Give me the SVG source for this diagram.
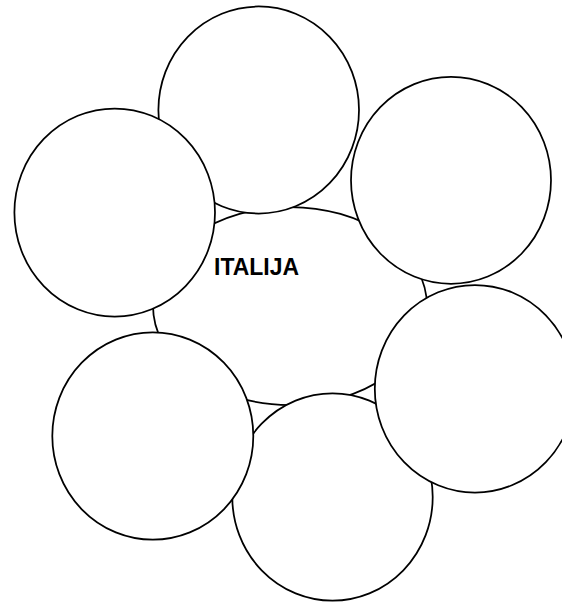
<svg xmlns="http://www.w3.org/2000/svg" width="562" height="603" viewBox="0 0 562 603">
<style>
.s{fill:#fff;stroke:#000;stroke-width:1.75}
.t{font-family:"Liberation Sans",Arial,sans-serif;font-weight:bold;font-size:23px;fill:#000}
</style>
<rect width="562" height="603" fill="#fff"/>
<g id="center">
<ellipse class="s" cx="290" cy="306" rx="137" ry="99"/>
<text class="t" x="214" y="275" textLength="85" lengthAdjust="spacingAndGlyphs">ITALIJA</text>
</g>
<g id="connectors"></g>
<g id="circle-top"><ellipse class="s" cx="258.7" cy="110" rx="100.3" ry="103.5"/></g>
<g id="circle-top-right"><ellipse class="s" cx="451" cy="180.3" rx="100" ry="103.5"/></g>
<g id="circle-bottom"><ellipse class="s" cx="332.5" cy="497" rx="100.2" ry="103.7"/></g>
<g id="circle-right"><ellipse class="s" cx="475" cy="388.8" rx="100.2" ry="103.8"/></g>
<g id="circle-bottom-left"><ellipse class="s" cx="152.8" cy="436" rx="100.5" ry="103.7"/></g>
<g id="circle-left"><ellipse class="s" cx="114.7" cy="212.5" rx="100.3" ry="104"/></g>
</svg>
